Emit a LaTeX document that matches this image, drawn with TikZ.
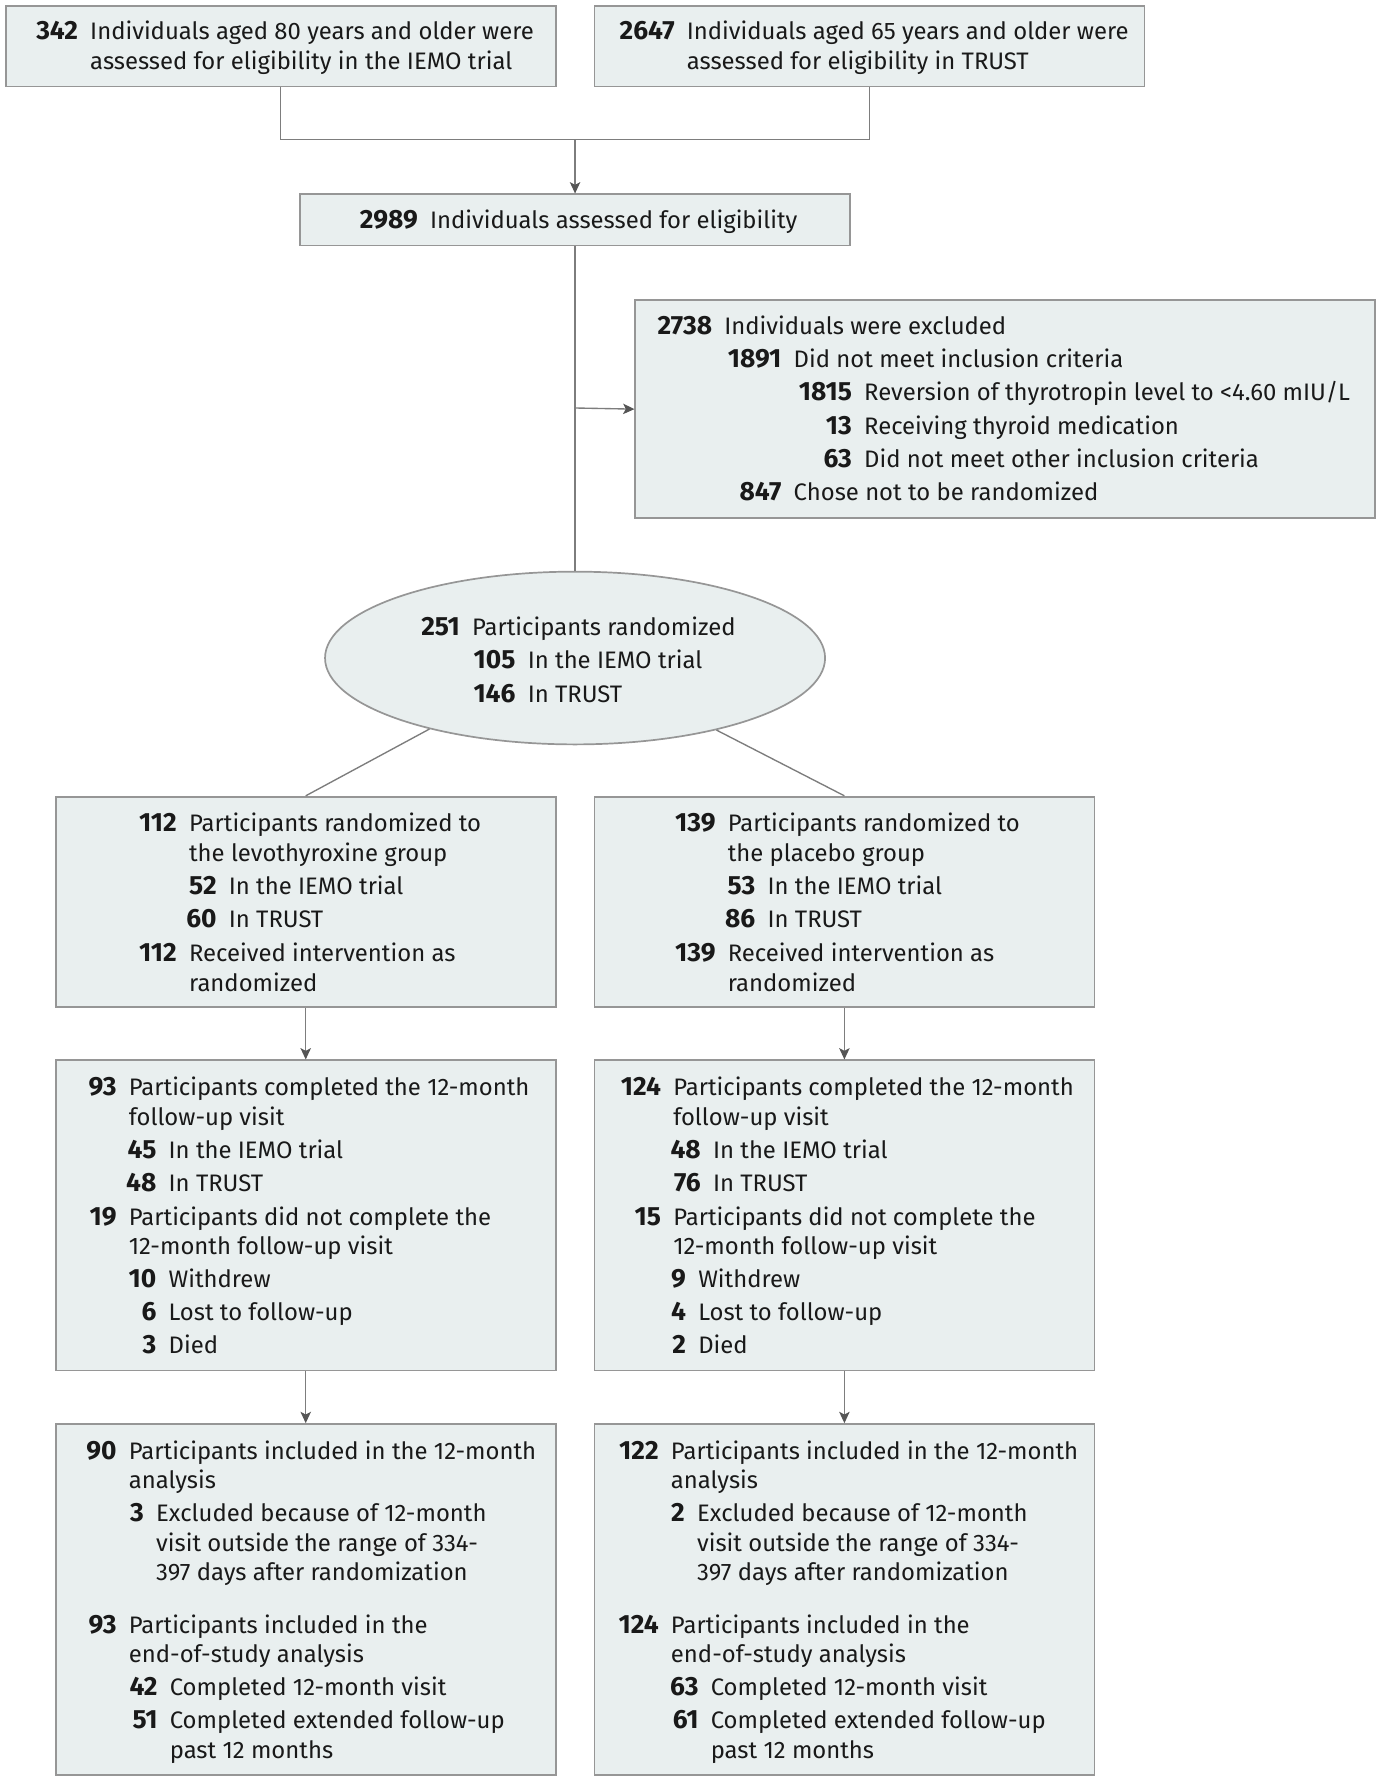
\documentclass[tikz,border=0pt]{standalone}
\usepackage{fontspec}
\setmainfont{Fira Sans}
\usetikzlibrary{arrows.meta,shapes.geometric,fit}
\definecolor{boxfill}{RGB}{233,239,239}
\definecolor{boxline}{RGB}{150,150,150}
\definecolor{conn}{RGB}{125,125,125}
\definecolor{tipc}{RGB}{85,85,85}
\definecolor{txt}{RGB}{25,25,25}
\newcounter{lnum}
\newcommand\fsz{\fontsize{10.5pt}{12pt}\selectfont}
\newcommand\nsz{\fontsize{11.6pt}{12pt}\selectfont}
\newcommand\entry[4]{\stepcounter{lnum}\node[numtext] (n\thelnum) at (#1-10,#2) {#3};\node[bodytext] (t\thelnum) at (#1,#2) {#4};}
\newcommand\cont[3]{\stepcounter{lnum}\node[bodytext] (t\thelnum) at (#1,#2) {#3};}
\tikzset{
  numtext/.style={anchor=base east, inner sep=0pt, font=\nsz\bfseries, text=txt},
  bodytext/.style={anchor=base west, inner sep=0pt, font=\fsz, text=txt},
  box/.style={draw=boxline, fill=boxfill, line width=0.75pt, inner sep=0pt},
  conline/.style={draw=conn, line width=0.6pt},
  conarrow/.style={conline, -{Stealth[length=5pt,width=4.6pt,inset=1.2pt,color=tipc]}},
}
\begin{document}
\begin{tikzpicture}[x=0.5pt,y=-0.5pt]
\useasboundingbox (0,0) rectangle (1215,1568);
% boxes
\node[box, fit={(5,5) (489,76)}] (b1) {};
\node[box, fit={(523,5) (1007,76)}] (b2) {};
\node[box, fit={(264,171) (748,216)}] (b3) {};
\node[box, fit={(559,264) (1210,456)}] (excl) {};
\node[box, ellipse, minimum width=220pt, minimum height=76pt] (ell) at (506,579) {};
\node[box, fit={(49,701) (489,886)}] (l1) {};
\node[box, fit={(523,701) (963,886)}] (r1) {};
\node[box, fit={(49,933) (489,1206)}] (l2) {};
\node[box, fit={(523,933) (963,1206)}] (r2) {};
\node[box, fit={(49,1253) (489,1562)}] (l3) {};
\node[box, fit={(523,1253) (963,1562)}] (r3) {};
% connectors
\coordinate (merge) at (506,123);
\coordinate (branch) at (506,359);
\draw[conline] (b1.south) |- (merge) -| (b2.south);
\draw[conarrow] (merge) -- (b3.north);
\draw[conline] (b3.south) -- (ell.north);
\draw[conarrow] (branch) -- (excl.west);
\draw[conline] (ell.206.7) -- (l1.north);
\draw[conline] (ell.333.6) -- (r1.north);
\draw[conarrow] (l1.south) -- (l2.north);
\draw[conarrow] (r1.south) -- (r2.north);
\draw[conarrow] (l2.south) -- (l3.north);
\draw[conarrow] (r2.south) -- (r3.north);
% texts top
\entry{79}{35}{342}{Individuals aged 80 years and older were}
\cont{79}{61}{assessed for eligibility in the IEMO trial}
\entry{604}{35}{2647}{Individuals aged 65 years and older were}
\cont{604}{61}{assessed for eligibility in TRUST}
\entry{378}{201}{2989}{Individuals assessed for eligibility}
% excluded
\entry{637}{294}{2738}{Individuals were excluded}
\entry{698}{323}{1891}{Did not meet inclusion criteria}
\entry{760}{352}{1815}{Reversion of thyrotropin level to <4.60 mIU/L}
\entry{760}{382}{13}{Receiving thyroid medication}
\entry{760}{411}{63}{Did not meet other inclusion criteria}
\entry{698}{440}{847}{Chose not to be randomized}
% ellipse
\entry{415}{559}{251}{Participants randomized}
\entry{464}{588}{105}{In the IEMO trial}
\entry{464}{618}{146}{In TRUST}
% L1
\entry{166}{732}{112}{Participants randomized to}
\cont{166}{758}{the levothyroxine group}
\entry{201}{787}{52}{In the IEMO trial}
\entry{201}{816}{60}{In TRUST}
\entry{166}{846}{112}{Received intervention as}
\cont{166}{872}{randomized}
% R1
\entry{640}{732}{139}{Participants randomized to}
\cont{640}{758}{the placebo group}
\entry{675}{787}{53}{In the IEMO trial}
\entry{675}{816}{86}{In TRUST}
\entry{640}{846}{139}{Received intervention as}
\cont{640}{872}{randomized}
% L2
\entry{113}{964}{93}{Participants completed the 12-month}
\cont{113}{990}{follow-up visit}
\entry{148}{1019}{45}{In the IEMO trial}
\entry{148}{1048}{48}{In TRUST}
\entry{113}{1078}{19}{Participants did not complete the}
\cont{113}{1104}{12-month follow-up visit}
\entry{148}{1133}{10}{Withdrew}
\entry{148}{1162}{6}{Lost to follow-up}
\entry{148}{1191}{3}{Died}
% R2
\entry{592}{964}{124}{Participants completed the 12-month}
\cont{592}{990}{follow-up visit}
\entry{627}{1019}{48}{In the IEMO trial}
\entry{627}{1048}{76}{In TRUST}
\entry{592}{1078}{15}{Participants did not complete the}
\cont{592}{1104}{12-month follow-up visit}
\entry{614}{1133}{9}{Withdrew}
\entry{614}{1162}{4}{Lost to follow-up}
\entry{614}{1191}{2}{Died}
% L3
\entry{113}{1284}{90}{Participants included in the 12-month}
\cont{113}{1310}{analysis}
\entry{137}{1339}{3}{Excluded because of 12-month}
\cont{137}{1365}{visit outside the range of 334-}
\cont{137}{1391}{397 days after randomization}
\entry{113}{1437}{93}{Participants included in the}
\cont{113}{1463}{end-of-study analysis}
\entry{149}{1492}{42}{Completed 12-month visit}
\entry{149}{1521}{51}{Completed extended follow-up}
\cont{149}{1547}{past 12 months}
% R3
\entry{590}{1284}{122}{Participants included in the 12-month}
\cont{590}{1310}{analysis}
\entry{613}{1339}{2}{Excluded because of 12-month}
\cont{613}{1365}{visit outside the range of 334-}
\cont{613}{1391}{397 days after randomization}
\entry{590}{1437}{124}{Participants included in the}
\cont{590}{1463}{end-of-study analysis}
\entry{625}{1492}{63}{Completed 12-month visit}
\entry{625}{1521}{61}{Completed extended follow-up}
\cont{625}{1547}{past 12 months}
\end{tikzpicture}
\end{document}
